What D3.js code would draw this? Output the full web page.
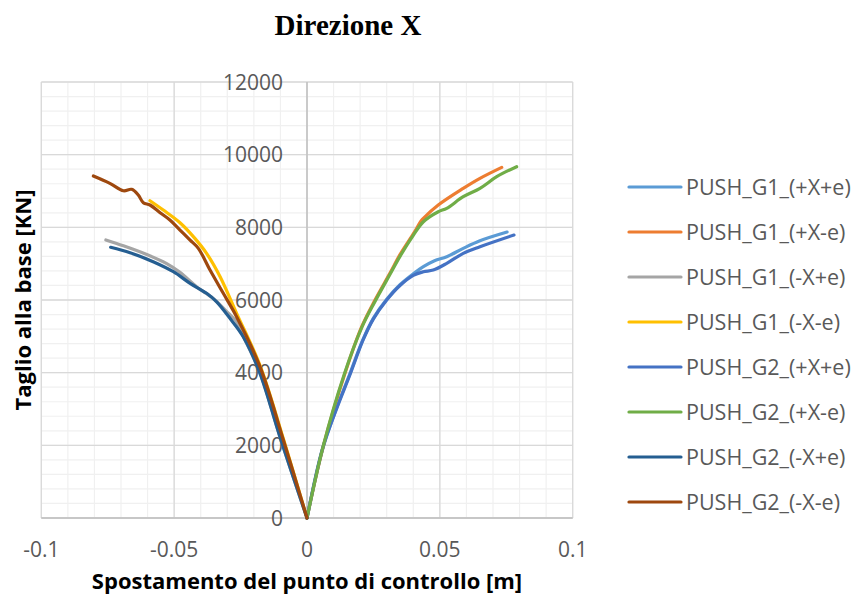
<!DOCTYPE html>
<html>
<head>
<meta charset="utf-8">
<script src="https://cdn.jsdelivr.net/npm/d3@7"></script>
<style>
  html, body { margin: 0; padding: 0; background: #fff; }
  svg { display: block; }
</style>
</head>
<body>
<svg id="chart" width="854" height="599"></svg>
<script>
// ---------- DATA ----------
const chartTitle = "Direzione X";
const xTitle = "Spostamento del punto di controllo [m]";
const yTitle = "Taglio alla base [KN]";
const xTicks = [-0.1, -0.05, 0, 0.05, 0.1];
const xTickLabels = ["-0.1", "-0.05", "0", "0.05", "0.1"];
const yTicks = [0, 2000, 4000, 6000, 8000, 10000, 12000];
const yTickLabels = ["0", "2000", "4000", "6000", "8000", "10000", "12000"];

const seriesNames = [
  "PUSH_G1_(+X+e)", "PUSH_G1_(+X-e)", "PUSH_G1_(-X+e)", "PUSH_G1_(-X-e)",
  "PUSH_G2_(+X+e)", "PUSH_G2_(+X-e)", "PUSH_G2_(-X+e)", "PUSH_G2_(-X-e)"
];
const seriesColors = ["#5B9BD5", "#ED7D31", "#A5A5A5", "#FFC000", "#4472C4", "#70AD47", "#255E91", "#9E480E"];

// displacement [m] / base shear [KN]
const g1PxeX = [0, 0.0059, 0.0110, 0.0162, 0.0210, 0.0250, 0.0300, 0.0350, 0.0400, 0.0438, 0.0480, 0.0526, 0.0588, 0.0651, 0.0753];
const g1PxeY = [0, 1900, 3000, 3982, 4900, 5500, 6020, 6420, 6720, 6916, 7080, 7191, 7422, 7631, 7871];

const g1PxmX = [0, 0.0061, 0.0143, 0.0206, 0.0256, 0.0312, 0.0350, 0.0400, 0.0430, 0.0438, 0.0494, 0.0588, 0.0651, 0.0733];
const g1PxmY = [0, 1962, 3982, 5265, 6000, 6734, 7250, 7820, 8180, 8248, 8614, 9073, 9349, 9651];

const g1MxeX = [0, -0.0102, -0.0177, -0.0240, -0.0265, -0.0302, -0.0353, -0.0415, -0.0478, -0.0528, -0.0603, -0.0691, -0.0757];
const g1MxeY = [0, 2237, 4000, 5000, 5400, 5680, 6040, 6360, 6760, 7000, 7250, 7490, 7651];

const g1MmeX = [0, -0.0089, -0.0177, -0.0265, -0.0327, -0.0378, -0.0422, -0.0478, -0.0541, -0.0591];
const g1MmeY = [0, 2180, 4200, 5634, 6641, 7285, 7697, 8127, 8476, 8732];

const g2PxeX = [0, 0.0058, 0.0110, 0.0162, 0.0210, 0.0250, 0.0300, 0.0350, 0.0400, 0.0438, 0.0475, 0.0526, 0.0588, 0.0651, 0.0779];
const g2PxeY = [0, 1900, 2980, 3950, 4880, 5480, 6000, 6400, 6680, 6778, 6825, 7009, 7284, 7466, 7788];

const g2PxmX = [0, 0.0060, 0.0140, 0.0206, 0.0256, 0.0312, 0.0350, 0.0400, 0.0438, 0.0494, 0.0526, 0.0588, 0.0651, 0.0714, 0.0789];
const g2PxmY = [0, 1950, 3950, 5240, 5960, 6700, 7200, 7780, 8154, 8429, 8523, 8842, 9073, 9393, 9668];

const g2MxeX = [0, -0.0102, -0.0177, -0.0240, -0.0290, -0.0340, -0.0378, -0.0440, -0.0503, -0.0579, -0.0666, -0.0739];
const g2MxeY = [0, 2237, 3982, 4990, 5496, 5950, 6184, 6459, 6778, 7054, 7301, 7450];

const g2MmeX = [0, -0.0089, -0.0177, -0.0265, -0.0315, -0.0365, -0.0409, -0.0440, -0.0478, -0.0516, -0.0553, -0.0591, -0.0616, -0.0635, -0.0660, -0.0691, -0.0742, -0.0804];
const g2MmeY = [0, 2147, 4164, 5540, 6184, 6825, 7422, 7651, 7926, 8201, 8402, 8614, 8677, 8889, 9046, 9007, 9211, 9412];

const seriesX = [g1PxeX, g1PxmX, g1MxeX, g1MmeX, g2PxeX, g2PxmX, g2MxeX, g2MmeX];
const seriesY = [g1PxeY, g1PxmY, g1MxeY, g1MmeY, g2PxeY, g2PxmY, g2MxeY, g2MmeY];

// ---------- DRAW ----------
const svg = d3.select("#chart");
const plot = { left: 41.3, right: 572.7, top: 82, bottom: 518 };

const x = d3.scaleLinear().domain([-0.1, 0.1]).range([plot.left, plot.right]);
const y = d3.scaleLinear().domain([0, 12000]).range([plot.bottom, plot.top]);

const sansFont = "'Open Sans', 'Liberation Sans', sans-serif";

// minor gridlines
const xMinor = d3.range(-0.1, 0.1001, 0.01).map(v => +v.toFixed(3));
const yMinor = d3.range(0, 12001, 400);
const grid = svg.append("g");
grid.selectAll("line.xm").data(xMinor).join("line")
  .attr("x1", d => x(d)).attr("x2", d => x(d))
  .attr("y1", plot.top).attr("y2", plot.bottom)
  .attr("stroke", "#f0f0f0").attr("stroke-width", 1.2);
grid.selectAll("line.ym").data(yMinor).join("line")
  .attr("x1", plot.left).attr("x2", plot.right)
  .attr("y1", d => y(d)).attr("y2", d => y(d))
  .attr("stroke", "#f0f0f0").attr("stroke-width", 1.2);
// major gridlines
grid.selectAll("line.xM").data(xTicks).join("line")
  .attr("x1", d => x(d)).attr("x2", d => x(d))
  .attr("y1", plot.top).attr("y2", plot.bottom)
  .attr("stroke", "#d9d9d9").attr("stroke-width", 1.3);
grid.selectAll("line.yM").data(yTicks).join("line")
  .attr("x1", plot.left).attr("x2", plot.right)
  .attr("y1", d => y(d)).attr("y2", d => y(d))
  .attr("stroke", "#d9d9d9").attr("stroke-width", 1.3);

// axis lines
svg.append("line")
  .attr("x1", x(0)).attr("x2", x(0)).attr("y1", plot.top).attr("y2", plot.bottom)
  .attr("stroke", "#bfbfbf").attr("stroke-width", 1.4);
svg.append("line")
  .attr("x1", plot.left).attr("x2", plot.right).attr("y1", y(0)).attr("y2", y(0))
  .attr("stroke", "#bfbfbf").attr("stroke-width", 1.4);

// y tick labels (next to vertical axis at x=0)
svg.append("g").selectAll("text").data(yTicks).join("text")
  .attr("x", x(0) - 24).attr("y", d => y(d)).attr("dy", "0.36em")
  .attr("text-anchor", "end")
  .attr("font-family", sansFont).attr("font-size", 21)
  .attr("fill", "#595959")
  .text((d, i) => yTickLabels[i]);

// x tick labels
svg.append("g").selectAll("text").data(xTicks).join("text")
  .attr("x", d => x(d)).attr("y", 557)
  .attr("text-anchor", "middle")
  .attr("font-family", sansFont).attr("font-size", 21)
  .attr("fill", "#595959")
  .text((d, i) => xTickLabels[i]);

// series lines
const lineGen = d3.line().x(d => x(d[0])).y(d => y(d[1])).curve(d3.curveCatmullRom.alpha(0.5));
svg.append("g").selectAll("path").data(d3.range(seriesNames.length)).join("path")
  .attr("d", i => lineGen(seriesX[i].map((v, k) => [v, seriesY[i][k]])))
  .attr("fill", "none")
  .attr("stroke", i => seriesColors[i])
  .attr("stroke-width", 3.2)
  .attr("stroke-linejoin", "round")
  .attr("stroke-linecap", "round");

// title
svg.append("text")
  .attr("x", 348).attr("y", 35)
  .attr("text-anchor", "middle")
  .attr("font-family", "'Liberation Serif', 'Times New Roman', serif")
  .attr("font-weight", "bold").attr("font-size", 29)
  .attr("fill", "#000")
  .text(chartTitle);

// axis titles
svg.append("text")
  .attr("x", 307).attr("y", 589)
  .attr("text-anchor", "middle")
  .attr("font-family", sansFont).attr("font-weight", "bold").attr("font-size", 22)
  .attr("fill", "#000")
  .text(xTitle);

svg.append("text")
  .attr("transform", "translate(31,300) rotate(-90)")
  .attr("text-anchor", "middle")
  .attr("font-family", sansFont).attr("font-weight", "bold").attr("font-size", 22)
  .attr("fill", "#000")
  .text(yTitle);

// legend
const legend = svg.append("g");
const legendTop = 187, legendStep = 45;
const rows = legend.selectAll("g").data(seriesNames).join("g")
  .attr("transform", (d, i) => `translate(0,${legendTop + i * legendStep})`);
rows.append("line")
  .attr("x1", 629).attr("x2", 681).attr("y1", 0).attr("y2", 0)
  .attr("stroke", (d, i) => seriesColors[i]).attr("stroke-width", 3.2)
  .attr("stroke-linecap", "round");
rows.append("text")
  .attr("x", 686).attr("y", 0).attr("dy", "0.36em")
  .attr("font-family", sansFont).attr("font-size", 21.5)
  .attr("fill", "#595959")
  .text(d => d);
</script>
</body>
</html>
